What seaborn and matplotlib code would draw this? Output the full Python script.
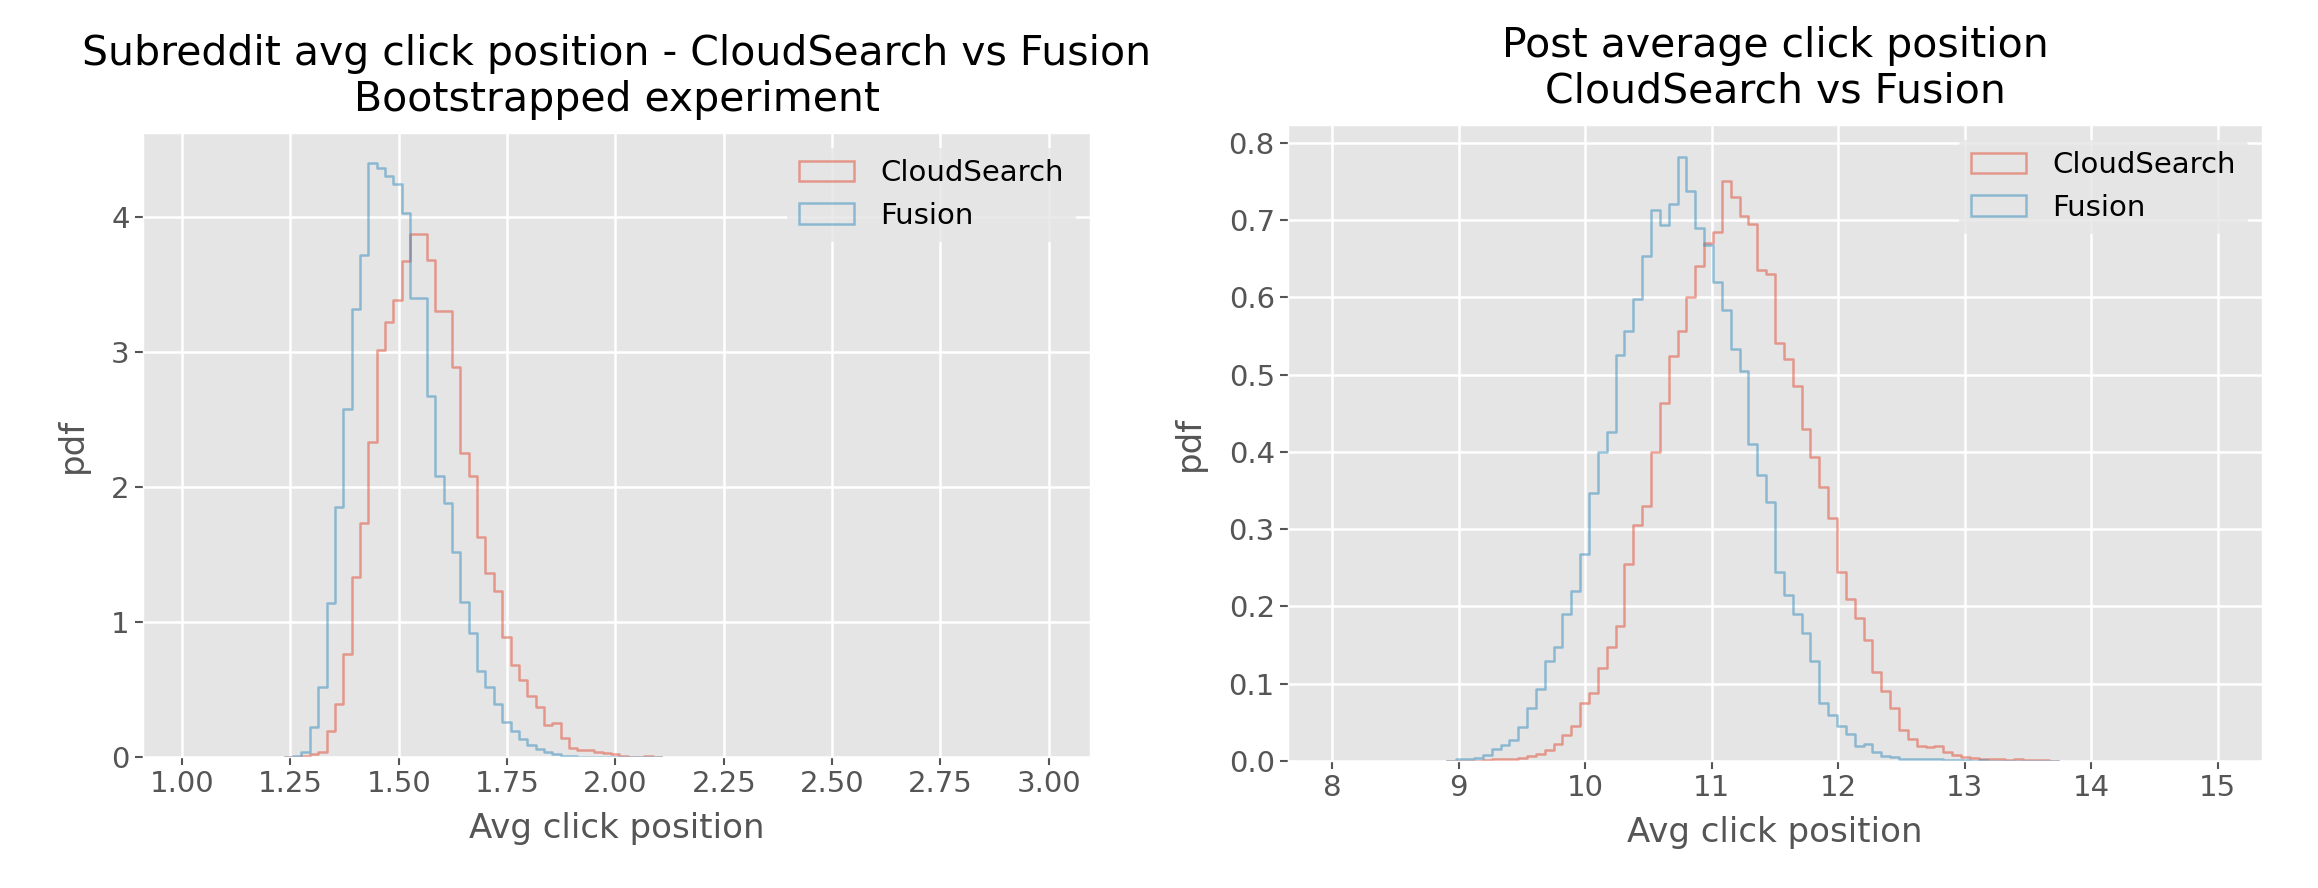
import numpy as np
import pandas as pd
import matplotlib
matplotlib.use("Agg")
import matplotlib.pyplot as plt
from matplotlib.patches import Patch
import seaborn as sns

plt.style.use("ggplot")
plt.rcParams.update({
    "font.family": ["DejaVu Sans"],
    "font.size": 21,
    "axes.titlesize": 29.5,
    "axes.labelsize": 24.5,
    "xtick.labelsize": 21,
    "ytick.labelsize": 21,
    "legend.fontsize": 21,
    "grid.linewidth": 1.8,
    "xtick.major.size": 6,
    "ytick.major.size": 6,
    "xtick.major.width": 1.5,
    "ytick.major.width": 1.5,
})

SERIES = ["CloudSearch", "Fusion"]
COLORS = {"CloudSearch": "#E24A33", "Fusion": "#348ABD"}

# subreddit experiment: pdf per bin, bins of equal width starting at sub_bin_start
sub_bin_start = 1.237
sub_bin_width = 0.0193
sub_cloudsearch = [0.0, 0.0, 0.01, 0.02, 0.04, 0.19, 0.39, 0.76, 1.33, 1.73, 2.33,
                   3.01, 3.22, 3.38, 3.67, 3.87, 3.87, 3.68, 3.30, 3.30, 2.89, 2.25,
                   2.08, 1.63, 1.36, 1.23, 0.89, 0.68, 0.57, 0.45, 0.37, 0.24, 0.25,
                   0.14, 0.07, 0.05, 0.05, 0.04, 0.03, 0.02, 0.01, 0.0, 0.0, 0.01, 0.0]
sub_fusion = [0.0, 0.01, 0.04, 0.22, 0.52, 1.14, 1.85, 2.58, 3.32, 3.72, 4.40,
              4.36, 4.30, 4.24, 4.03, 3.40, 3.40, 2.67, 2.08, 1.88, 1.52, 1.15,
              0.92, 0.64, 0.52, 0.39, 0.26, 0.19, 0.13, 0.09, 0.06, 0.04, 0.02,
              0.01, 0.01, 0.0, 0.0, 0.0, 0.0, 0.0, 0.0, 0.0, 0.0, 0.0, 0.0]

# post experiment
post_bin_start = 8.91
post_bin_width = 0.07
post_cloudsearch = [0.0, 0.0, 0.0, 0.0, 0.001, 0.002, 0.003, 0.003, 0.004, 0.006,
                    0.009, 0.014, 0.022, 0.033, 0.045, 0.075, 0.088, 0.12, 0.148,
                    0.175, 0.255, 0.305, 0.33, 0.40, 0.463, 0.524, 0.556, 0.60, 0.64,
                    0.67, 0.685, 0.75, 0.73, 0.705, 0.695, 0.636, 0.63, 0.541, 0.52,
                    0.485, 0.43, 0.394, 0.354, 0.314, 0.244, 0.21, 0.185, 0.156,
                    0.115, 0.09, 0.068, 0.04, 0.028, 0.02, 0.018, 0.02, 0.012, 0.008,
                    0.005, 0.004, 0.003, 0.002, 0.002, 0.001, 0.002, 0.001, 0.001,
                    0.001, 0.0]
post_fusion = [0.0, 0.002, 0.003, 0.004, 0.008, 0.015, 0.021, 0.027, 0.044, 0.068,
               0.093, 0.13, 0.148, 0.19, 0.22, 0.268, 0.347, 0.40, 0.426, 0.525,
               0.557, 0.598, 0.653, 0.713, 0.694, 0.721, 0.781, 0.738, 0.69, 0.668,
               0.62, 0.583, 0.533, 0.505, 0.41, 0.37, 0.335, 0.244, 0.215, 0.19,
               0.165, 0.13, 0.075, 0.06, 0.045, 0.035, 0.02, 0.022, 0.011, 0.007,
               0.005, 0.003, 0.002, 0.003, 0.002, 0.002, 0.001, 0.001, 0.001, 0.0,
               0.001, 0.0, 0.0, 0.0, 0.0, 0.0, 0.0, 0.0, 0.0]


def toFrame(start, width, values):
      n = len(values)
      edges = start + width * np.arange(n + 1)
      df = pd.DataFrame({"center": edges[:-1] + width / 2, "height": values})
      return df, edges.tolist()


def drawPanel(ax, start, width, seriesValues, title, xlim, ylim):
      for name, values in zip(SERIES, seriesValues):
            df, edges = toFrame(start, width, values)
            sns.histplot(data=df, x="center", weights="height", bins=edges,
                         element="step", fill=False, color=COLORS[name],
                         alpha=0.5, linewidth=1.8, ax=ax)
      handles = [Patch(facecolor="none", edgecolor=COLORS[n], alpha=0.5, linewidth=1.8)
                 for n in SERIES]
      ax.legend(handles, SERIES, loc="upper right", handlelength=1.9,
                handletextpad=0.9, frameon=True, edgecolor="#E5E5E5")
      ax.set_title(title, pad=16)
      ax.set_xlabel("Avg click position", labelpad=10)
      ax.set_ylabel("pdf", labelpad=16)
      ax.set_xlim(*xlim)
      ax.set_ylim(*ylim)


fig = plt.figure(figsize=(23.18, 8.88), dpi=100)
ax1 = fig.add_axes([143 / 2318, 1 - 757 / 888, 947 / 2318, 624 / 888])
ax2 = fig.add_axes([1288 / 2318, 1 - 761 / 888, 974 / 2318, 636 / 888])

drawPanel(ax1, sub_bin_start, sub_bin_width, [sub_cloudsearch, sub_fusion],
          "Subreddit avg click position - CloudSearch vs Fusion\nBootstrapped experiment",
          (0.91, 3.095), (0, 4.62))
ax1.set_xticks([1.0, 1.25, 1.5, 1.75, 2.0, 2.25, 2.5, 2.75, 3.0])
ax1.set_yticks([0, 1, 2, 3, 4])

drawPanel(ax2, post_bin_start, post_bin_width, [post_cloudsearch, post_fusion],
          "Post average click position\nCloudSearch vs Fusion",
          (7.65, 15.35), (0, 0.823))
ax2.set_xticks(range(8, 16))
ax2.set_yticks(np.arange(0, 0.81, 0.1))

fig.savefig("out.png", dpi=100)
